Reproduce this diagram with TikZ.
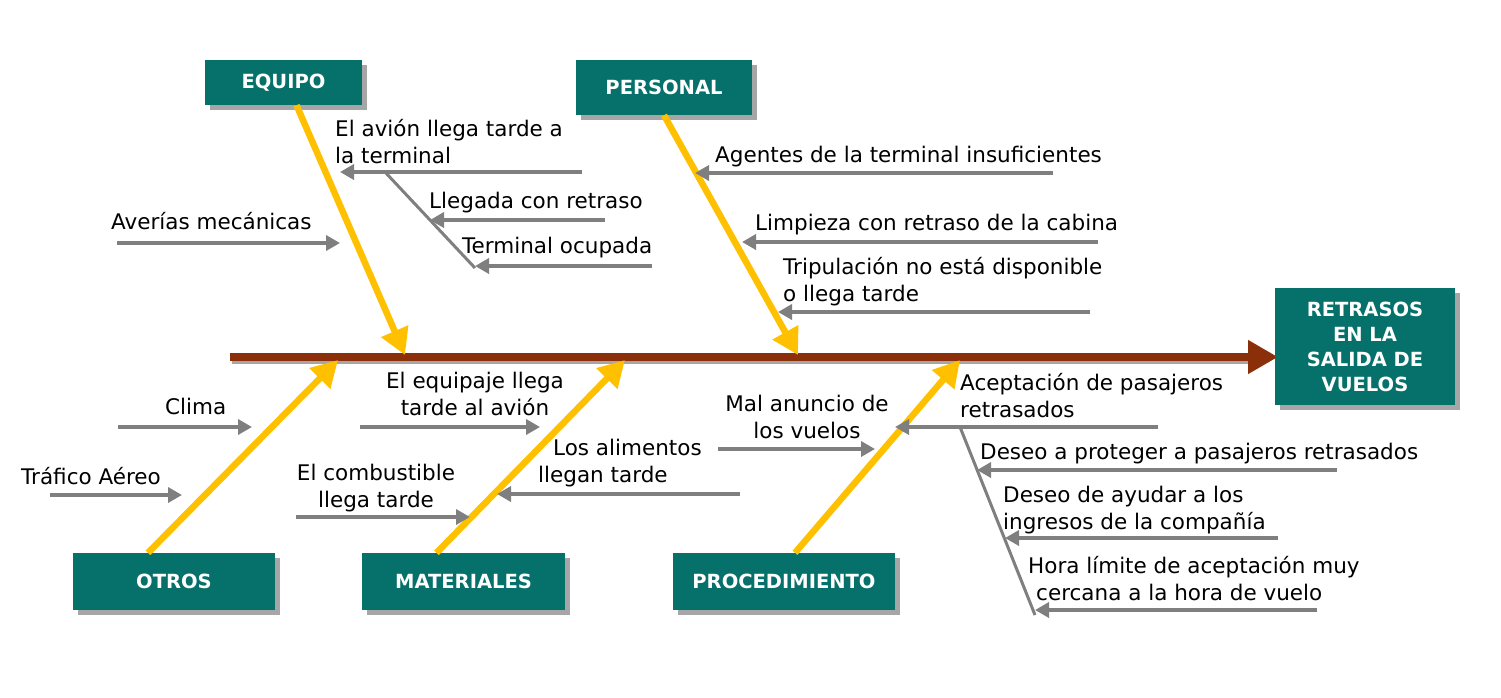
\documentclass[tikz,border=0pt]{standalone}
\usepackage{fontspec}
\setmainfont{DejaVu Sans}
\usetikzlibrary{arrows.meta,shadows}
\definecolor{teal1}{HTML}{06706B}
\definecolor{gold}{HTML}{FFC000}
\definecolor{brownx}{HTML}{8B2E0A}
\definecolor{grayx}{HTML}{7F7F7F}
\tikzset{
 cat/.style={fill=teal1,text=white,font=\fontsize{19.5}{22}\selectfont\bfseries,draw=none,drop shadow={shadow xshift=5pt,shadow yshift=-5pt,fill=gray!70,opacity=1}},
 lbl/.style={font=\fontsize{21.5}{27}\selectfont,inner sep=0pt,align=left},
 cause/.style={grayx,line width=3.5pt,-{Triangle[width=15pt,length=14pt]}},
 sub/.style={grayx,line width=3pt},
 big/.style={gold,line width=6.5pt,-{Triangle[width=28pt,length=26pt]}}
}
\begin{document}
\begin{tikzpicture}[x=1pt,y=-1pt]
\useasboundingbox (0,0) rectangle (1501,697);
% spine
\draw[gray!70,line width=6pt] (232,361) -- (1265,361);
\draw[brownx,line width=8pt,-{Triangle[width=32pt,length=30pt]}] (230,357) -- (1278,357);
% boxes
\node[cat,minimum width=157pt,minimum height=45pt] (eq) at (283.5,82.5) {EQUIPO};
\node[cat,minimum width=176pt,minimum height=55pt] (pe) at (664,87.5) {PERSONAL};
\node[cat,minimum width=202pt,minimum height=57pt] (ot) at (174,581.5) {OTROS};
\node[cat,minimum width=203pt,minimum height=57pt] (ma) at (463.5,581.5) {MATERIALES};
\node[cat,minimum width=222pt,minimum height=57pt] (pr) at (784,581.5) {PROCEDIMIENTO};
\node[cat,minimum width=180pt,minimum height=117pt,align=center,font=\fontsize{19.5}{25}\selectfont\bfseries] (ef) at (1365,346.5) {RETRASOS\\EN LA\\SALIDA DE\\VUELOS};
% coordinates
\coordinate (eqT) at (405,355); \coordinate (peT) at (798,355);
\coordinate (otT) at (338,360); \coordinate (maT) at (625,360); \coordinate (prT) at (960,360);
\draw[big] (eq.south) ++(13,0) -- (eqT);
\draw[big] (pe.south) -- (peT);
\draw[big] (ot.north) ++(-26,0) -- (otT);
\draw[big] (ma.north) ++(-27,0) -- (maT);
\draw[big] (pr.north) ++(11,0) -- (prT);
% EQUIPO causes
\coordinate (a1s) at (117,243); \coordinate (a1e) at (340,243);
\draw[cause] (a1s) -- (a1e);
\node[lbl,anchor=base west] (t1) at (111,229) {Averías mecánicas};
\coordinate (a2s) at (582,172); \coordinate (a2e) at (340,172);
\draw[cause] (a2s) -- (a2e);
\node[lbl,anchor=north west] (t2) at (335,119) {El avión llega tarde a\\la terminal};
\coordinate (b1) at (385,172); \coordinate (b2) at (475,268);
\draw[sub] (b1) -- (b2);
\coordinate (a3s) at (605,220); \coordinate (a3e) at (430,220);
\draw[cause] (a3s) -- (a3e);
\node[lbl,anchor=base west] (t3) at (429,208) {Llegada con retraso};
\coordinate (a4s) at (652,266); \coordinate (a4e) at (475,266);
\draw[cause] (a4s) -- (a4e);
\node[lbl,anchor=base west] (t4) at (462,253) {Terminal ocupada};
% PERSONAL
\coordinate (p1s) at (1053,173); \coordinate (p1e) at (695,173);
\draw[cause] (p1s) -- (p1e);
\node[lbl,anchor=base west] (u1) at (715,162) {Agentes de la terminal insuficientes};
\coordinate (p2s) at (1098,242); \coordinate (p2e) at (742,242);
\draw[cause] (p2s) -- (p2e);
\node[lbl,anchor=base west] (u2) at (755,230) {Limpieza con retraso de la cabina};
\coordinate (p3s) at (1090,312); \coordinate (p3e) at (778,312);
\draw[cause] (p3s) -- (p3e);
\node[lbl,anchor=north west] (u3) at (783,257) {Tripulación no está disponible\\o llega tarde};
% OTROS
\coordinate (o1s) at (118,427); \coordinate (o1e) at (252,427);
\draw[cause] (o1s) -- (o1e);
\node[lbl,anchor=base west] (v1) at (165,414) {Clima};
\coordinate (o2s) at (50,495); \coordinate (o2e) at (182,495);
\draw[cause] (o2s) -- (o2e);
\node[lbl,anchor=base west] (v2) at (21,484) {Tráfico Aéreo};
% MATERIALES
\coordinate (m1s) at (360,427); \coordinate (m1e) at (540,427);
\draw[cause] (m1s) -- (m1e);
\node[lbl,align=center,anchor=north] (w1) at (475,372) {El equipaje llega\\tarde al avión};
\coordinate (m2s) at (296,517); \coordinate (m2e) at (470,517);
\draw[cause] (m2s) -- (m2e);
\node[lbl,align=center,anchor=north] (w2) at (376,464) {El combustible\\llega tarde};
\coordinate (m3s) at (740,494); \coordinate (m3e) at (497,494);
\draw[cause] (m3s) -- (m3e);
\node[lbl,anchor=north west] (w3) at (553,439) {Los alimentos\\\hspace*{-15pt}llegan tarde};
% PROCEDIMIENTO
\coordinate (r1s) at (718,449); \coordinate (r1e) at (875,449);
\draw[cause] (r1s) -- (r1e);
\node[lbl,align=center,anchor=north] (x1) at (807,395) {Mal anuncio de\\los vuelos};
\coordinate (r2s) at (1158,427); \coordinate (r2e) at (895,427);
\draw[cause] (r2s) -- (r2e);
\node[lbl,anchor=north west] (x2) at (960,373) {Aceptación de pasajeros\\retrasados};
\coordinate (c1) at (960,427); \coordinate (c2) at (1035,615);
\draw[sub] (c1) -- (c2);
\coordinate (r3s) at (1337,470); \coordinate (r3e) at (977,470);
\draw[cause] (r3s) -- (r3e);
\node[lbl,anchor=base west] (x3) at (980,459) {Deseo a proteger a pasajeros retrasados};
\coordinate (r4s) at (1278,538); \coordinate (r4e) at (1005,538);
\draw[cause] (r4s) -- (r4e);
\node[lbl,anchor=north west] (x4) at (1003,486) {Deseo de ayudar a los\\ingresos de la compañía};
\coordinate (r5s) at (1317,610); \coordinate (r5e) at (1035,610);
\draw[cause] (r5s) -- (r5e);
\node[lbl,anchor=north west] (x5) at (1028,556) {Hora límite de aceptación muy\\\hspace*{8pt}cercana a la hora de vuelo};
\end{tikzpicture}
\end{document}
